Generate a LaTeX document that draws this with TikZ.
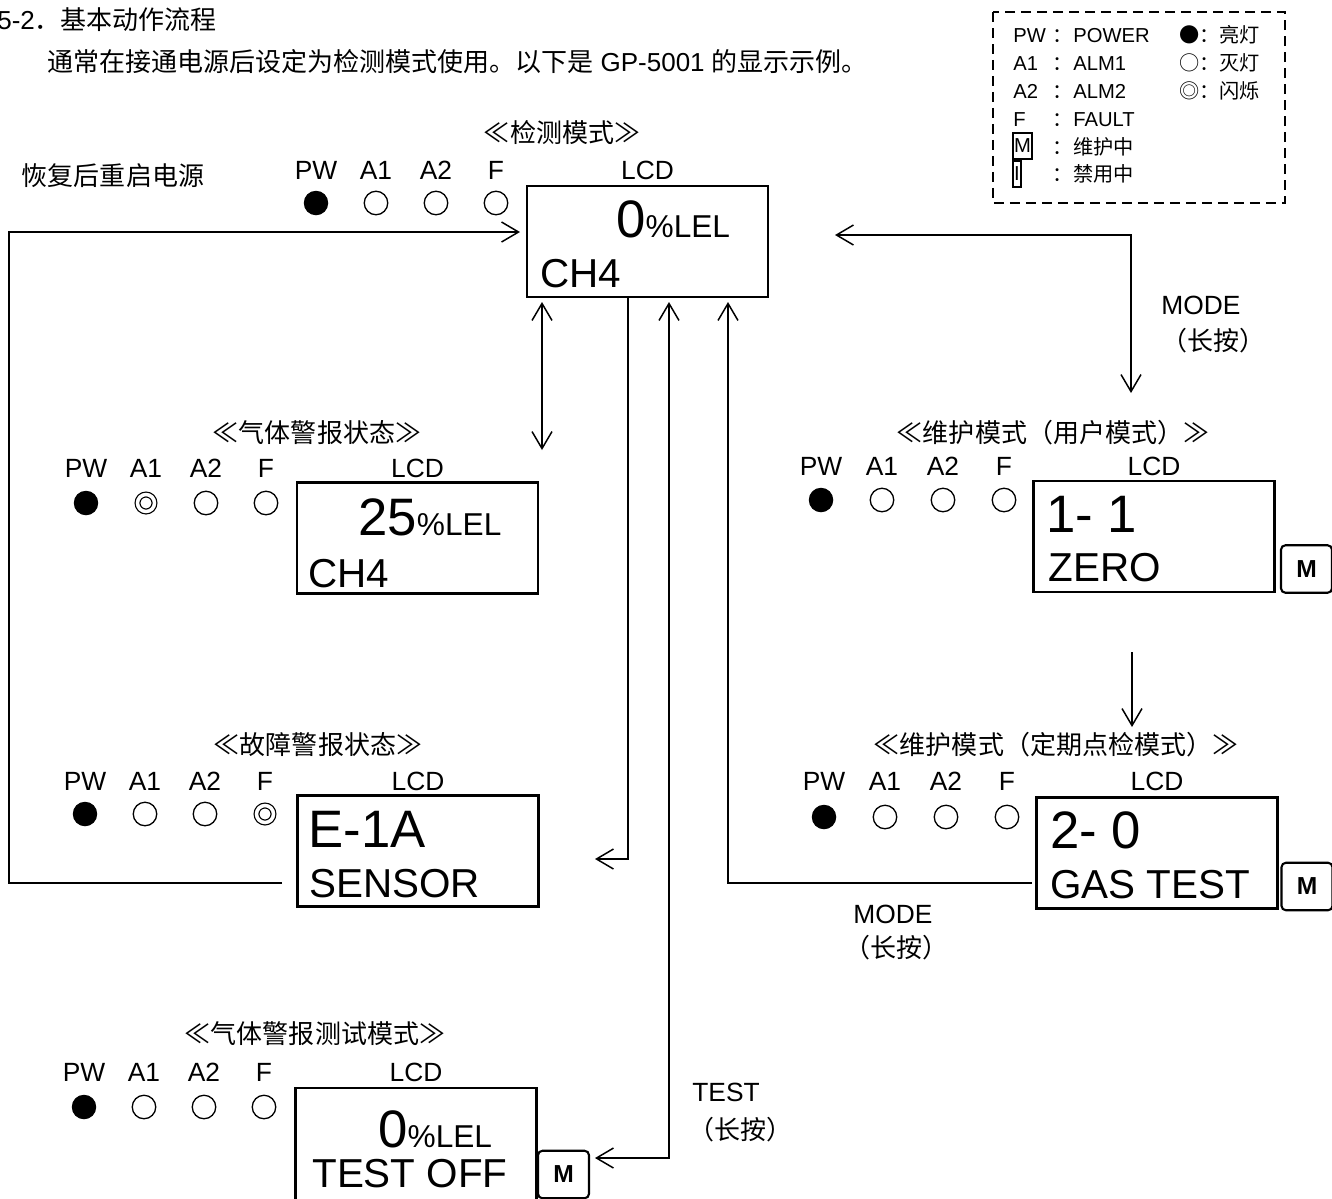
\documentclass[tikz,border=0pt]{standalone}
\usepackage{fontspec}
\setmainfont{Liberation Sans}
\newfontfamily\cjk{Noto Sans CJK SC}
\usetikzlibrary{arrows.meta,positioning}
\newcommand{\lcdbig}{\fontsize{30}{30}\selectfont}
\newcommand{\lcdmid}{\fontsize{23}{23}\selectfont}
\newcommand{\lcdunit}{\fontsize{18}{18}\selectfont}

\begin{document}
\begin{tikzpicture}[x=0.02cm,y=-0.02cm,
    flow/.style={line width=0.85pt,>={Straight Barb[length=3.4mm,width=4mm]}},
    lcd/.style={draw,line width=1.2pt,minimum width=4.82cm,minimum height=2.22cm,inner sep=0pt},
    lcdtext/.style={anchor=base west,inner sep=0pt},
    mkey/.style={draw,line width=1.2pt,rounded corners=2.5pt,minimum width=1.02cm,
      minimum height=0.95cm,inner sep=0pt,font=\bfseries\fontsize{14}{14}\selectfont},
    ledlabel/.style={inner sep=0pt,font=\fontsize{15}{17}\selectfont},
    modetitle/.style={inner sep=0pt,font=\cjk\fontsize{14.8}{17}\selectfont},
    led on/.style={circle,fill,minimum size=0.49cm,inner sep=0pt},
    led off/.style={circle,draw,line width=0.75pt,minimum size=0.47cm,inner sep=0pt},
    led blink/.style={circle,draw,double,double distance=0.07cm,line width=0.7pt,
      minimum size=0.34cm,inner sep=0pt},
    keytext/.style={anchor=base west,inner sep=0pt,font=\fontsize{11.5}{13}\selectfont}]
  \useasboundingbox (0,0) rectangle (1332,1198);

  % heading
  \node[anchor=west,inner sep=0pt,font=\fontsize{14.8}{17}\selectfont] (head) at (-3,20)
    {5-2{\cjk ．基本动作流程}};
  \node[anchor=west,inner sep=0pt,font=\fontsize{14.8}{17}\selectfont] (intro) at (47,62)
    {{\cjk 通常在接通电源后设定为检测模式使用。以下是} GP-5001 {\cjk 的显示示例。}};

  % legend
  \draw[line width=1.1pt,dash pattern=on 0.2cm off 0.12cm] (993,12) rectangle (1285,203);
  \foreach \a/\b [count=\i] in {PW/POWER,A1/ALM1,A2/ALM2,F/FAULT}{
    \node[keytext] (key-a\i) at (1013,{14+28*\i}) {\a};
    \node[keytext,font=\cjk\fontsize{11.5}{13}\selectfont] (key-c\i) at (1052,{14+28*\i}) {：};
    \node[keytext] (key-b\i) at (1073,{14+28*\i}) {\b};
  }
  \node[draw,line width=0.8pt,minimum width=0.38cm,minimum height=0.52cm,inner sep=0pt,
    font=\fontsize{11.5}{13}\selectfont] (key-m) at (1022.5,146) {M};
  \node[keytext,font=\cjk\fontsize{11.5}{13}\selectfont] (key-c5) at (1052,154) {：};
  \node[keytext,font=\cjk\fontsize{11.5}{13}\selectfont] (key-b5) at (1073,154) {维护中};
  \node[draw,line width=0.8pt,minimum width=0.16cm,minimum height=0.52cm,inner sep=0pt,
    font=\fontsize{11.5}{13}\selectfont] (key-i) at (1017,174) {I};
  \node[keytext,font=\cjk\fontsize{11.5}{13}\selectfont] (key-c6) at (1052,181) {：};
  \node[keytext,font=\cjk\fontsize{11.5}{13}\selectfont] (key-b6) at (1073,181) {禁用中};
  \foreach \s [count=\i] in {●：亮灯,○：灭灯,◎：闪烁}
    \node[keytext,font=\cjk\fontsize{11.5}{13}\selectfont] (key-s\i) at (1179,{14+28*\i}) {\s};

  % detection mode
  \node[modetitle] (det-title) at (562,133) {≪检测模式≫};
  \node[modetitle] (restart) at (113,176) {恢复后重启电源};
  \foreach \t [count=\i] in {PW,A1,A2,F}
    \node[ledlabel] (det-t\i) at ({256+60*\i},170) {\t};
  \foreach \s [count=\i] in {on,off,off,off}
    \node[led \s] (det-l\i) at ({256+60*\i},203) {};
  \node[ledlabel] (det-lcd) at (647.5,170) {LCD};
  \node[lcd] (det) at (647.5,241.5) {};
  \node[lcdtext] (det-v) at (616,237) {\lcdbig 0\lcdunit\%LEL};
  \node[lcdtext] (det-g) at (540,287) {\lcdmid CH4};

  % gas alarm
  \node[modetitle] (gas-title) at (317,433) {≪气体警报状态≫};
  \foreach \t [count=\i] in {PW,A1,A2,F}
    \node[ledlabel] (gas-t\i) at ({26+60*\i},468) {\t};
  \foreach \s [count=\i] in {on,blink,off,off}
    \node[led \s] (gas-l\i) at ({26+60*\i},503) {};
  \node[ledlabel] (gas-lcd) at (417.5,468) {LCD};
  \node[lcd] (gas) at (417.5,538) {};
  \node[lcdtext] (gas-v) at (358,535) {\lcdbig 25\lcdunit\%LEL};
  \node[lcdtext] (gas-g) at (308,587) {\lcdmid CH4};

  % fault alarm
  \node[modetitle] (flt-title) at (318,745) {≪故障警报状态≫};
  \foreach \t [count=\i] in {PW,A1,A2,F}
    \node[ledlabel] (flt-t\i) at ({25+60*\i},781) {\t};
  \foreach \s [count=\i] in {on,off,off,blink}
    \node[led \s] (flt-l\i) at ({25+60*\i},814) {};
  \node[ledlabel] (flt-lcd) at (418,781) {LCD};
  \node[lcd] (flt) at (418,851) {};
  \node[lcdtext] (flt-v) at (308,847) {\lcdbig E-1A};
  \node[lcdtext] (flt-g) at (309,897) {\lcdmid SENSOR};

  % gas alarm test
  \node[modetitle] (tst-title) at (315,1034) {≪气体警报测试模式≫};
  \foreach \t [count=\i] in {PW,A1,A2,F}
    \node[ledlabel] (tst-t\i) at ({24+60*\i},1072) {\t};
  \foreach \s [count=\i] in {on,off,off,off}
    \node[led \s] (tst-l\i) at ({24+60*\i},1107) {};
  \node[ledlabel] (tst-lcd) at (416,1072) {LCD};
  \node[lcd,minimum height=2.4cm] (tst) at (416,1148) {};
  \node[lcdtext] (tst-v) at (378,1147) {\lcdbig 0\lcdunit\%LEL};
  \node[lcdtext] (tst-g) at (312,1187) {\lcdmid TEST OFF};
  \node[mkey] (tst-m) at (563.5,1174.5) {M};

  % maintenance, user
  \node[modetitle] (usr-title) at (1053,433) {≪维护模式（用户模式）≫};
  \foreach \t [count=\i] in {PW,A1,A2,F}
    \node[ledlabel] (usr-t\i) at ({760+61*\i},466) {\t};
  \foreach \s [count=\i] in {on,off,off,off}
    \node[led \s] (usr-l\i) at ({760+61*\i},500) {};
  \node[ledlabel] (usr-lcd) at (1154,466) {LCD};
  \node[lcd] (usr) at (1154,536.5) {};
  \node[lcdtext] (usr-v) at (1046,532) {\lcdbig 1- 1};
  \node[lcdtext] (usr-g) at (1048,581) {\lcdmid ZERO};
  \node[mkey] (usr-m) at (1306.5,569) {M};

  % maintenance, periodic check
  \node[modetitle] (per-title) at (1056,745) {≪维护模式（定期点检模式）≫};
  \foreach \t [count=\i] in {PW,A1,A2,F}
    \node[ledlabel] (per-t\i) at ({763+61*\i},781) {\t};
  \foreach \s [count=\i] in {on,off,off,off}
    \node[led \s] (per-l\i) at ({763+61*\i},817) {};
  \node[ledlabel] (per-lcd) at (1157,781) {LCD};
  \node[lcd] (per) at (1157,853) {};
  \node[lcdtext] (per-v) at (1050,848) {\lcdbig 2- 0};
  \node[lcdtext] (per-g) at (1050,898) {\lcdmid GAS TEST};
  \node[mkey] (per-m) at (1307,886.5) {M};

  % key labels
  \node[ledlabel] (mode-a) at (1201,305) {MODE};
  \node[modetitle] (mode-a2) at (1213,341) {（长按）};
  \node[ledlabel] (mode-b) at (893,914) {MODE};
  \node[modetitle] (mode-b2) at (896,948) {（长按）};
  \node[ledlabel] (test-k) at (726,1092) {TEST};
  \node[modetitle] (test-k2) at (740,1130) {（长按）};

  % connectors
  \coordinate (rst-a) at (282,883);
  \coordinate (rst-b) at (9,232);
  \coordinate (rst-c) at (520,232);
  \draw[flow,->] (rst-a) -| (rst-b) -- (rst-c);
  \coordinate (gas-a) at (542,302);
  \coordinate (gas-b) at (542,450);
  \draw[flow,<->] (gas-a) -- (gas-b);
  \coordinate (flt-a) at (628,297);
  \coordinate (flt-b) at (595,859);
  \draw[flow,->] (flt-a) |- (flt-b);
  \coordinate (tst-a) at (595,1158);
  \coordinate (tst-b) at (669,302);
  \draw[flow,<->] (tst-a) -| (tst-b);
  \coordinate (per-a) at (1032,883);
  \coordinate (per-b) at (728,302);
  \draw[flow,->] (per-a) -| (per-b);
  \coordinate (usr-a) at (835,235);
  \coordinate (usr-b) at (1131,393);
  \draw[flow,<->] (usr-a) -| (usr-b);
  \coordinate (usr-c) at (1132,652);
  \coordinate (usr-d) at (1132,727);
  \draw[flow,->] (usr-c) -- (usr-d);
\end{tikzpicture}
\end{document}
